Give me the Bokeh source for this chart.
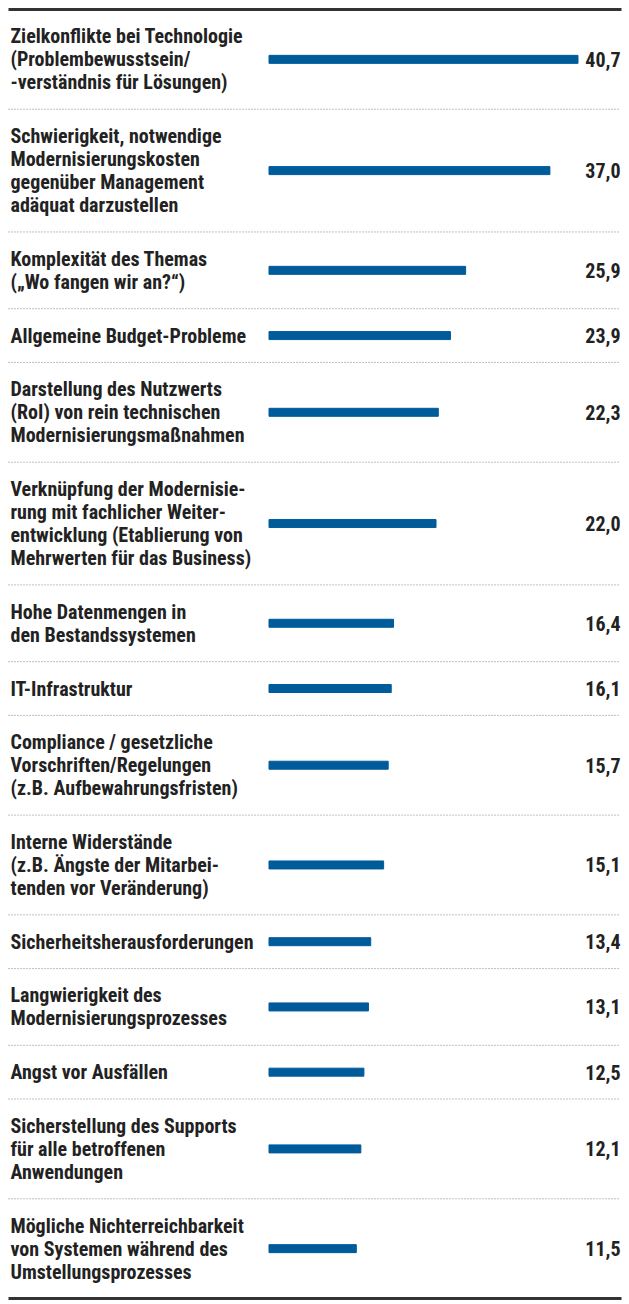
from bokeh.plotting import figure
from bokeh.models import Range1d, ColumnDataSource
from bokeh.embed import file_html
from bokeh.resources import INLINE
from bokeh.core.properties import value

labels = [
    "Zielkonflikte bei Technologie\n(Problembewusstsein/\n-verständnis für Lösungen)",
    "Schwierigkeit, notwendige\nModernisierungskosten\ngegenüber Management\nadäquat darzustellen",
    "Komplexität des Themas\n(„Wo fangen wir an?“)",
    "Allgemeine Budget-Probleme",
    "Darstellung des Nutzwerts\n(RoI) von rein technischen\nModernisierungsmaßnahmen",
    "Verknüpfung der Modernisie-\nrung mit fachlicher Weiter-\nentwicklung (Etablierung von\nMehrwerten für das Business)",
    "Hohe Datenmengen in\nden Bestandssystemen",
    "IT-Infrastruktur",
    "Compliance / gesetzliche\nVorschriften/Regelungen\n(z.B. Aufbewahrungsfristen)",
    "Interne Widerstände\n(z.B. Ängste der Mitarbei-\ntenden vor Veränderung)",
    "Sicherheitsherausforderungen",
    "Langwierigkeit des\nModernisierungsprozesses",
    "Angst vor Ausfällen",
    "Sicherstellung des Supports\nfür alle betroffenen\nAnwendungen",
    "Mögliche Nichterreichbarkeit\nvon Systemen während des\nUmstellungsprozesses",
]
values = [40.7, 37.0, 25.9, 23.9, 22.3, 22.0, 16.4, 16.1, 15.7, 15.1, 13.4, 13.1, 12.5, 12.1, 11.5]
value_labels = [f"{v:.1f}".replace(".", ",") for v in values]

W, H = 629, 1304
PX_PER_UNIT = 7.592
BAR_START_PX = 268.5
LEFT_PX, RIGHT_PX = 8, 621
LINE_H = 23
TOP, BOTTOM = 9, 1298

FONT = "Roboto Condensed, Roboto"
FS = 20
TEXT_COLOR = "#222222"
BAR_COLOR = "#005b9b"

x0 = -BAR_START_PX / PX_PER_UNIT
x1 = (W - BAR_START_PX) / PX_PER_UNIT
def px(xp):
    return x0 + xp / PX_PER_UNIT

n_lines = [lab.count("\n") + 1 for lab in labels]
row_pad = ((BOTTOM - TOP) - LINE_H * sum(n_lines)) / len(labels)

centers, bounds = [], [TOP]
y = TOP
for n in n_lines:
    h = row_pad + LINE_H * n
    centers.append(y + h / 2)
    y += h
    bounds.append(y)

p = figure(width=W, height=H, x_range=Range1d(x0, x1), y_range=Range1d(H, 0),
           output_backend="svg", toolbar_location=None, min_border=0)
p.axis.visible = False
p.grid.visible = False
p.outline_line_color = None
p.background_fill_color = "white"

src = ColumnDataSource(dict(y=centers, v=values, lab=labels, vl=value_labels))

p.hbar(y="y", left=0, right="v", height=8, color=BAR_COLOR, source=src)

p.text(x=px(10), y="y", text="lab", source=src,
       text_font=value(FONT), text_font_size=f"{FS}px", text_font_style="bold",
       text_color=TEXT_COLOR, text_baseline="middle", text_align="left",
       text_line_height=0.96)
p.text(x=px(620), y="y", text="vl", source=src,
       text_font=value(FONT), text_font_size=f"{FS}px", text_font_style="bold",
       text_color=TEXT_COLOR, text_baseline="middle", text_align="right")

inner = bounds[1:-1]
p.segment(x0=[px(LEFT_PX)] * len(inner), x1=[px(620)] * len(inner), y0=inner, y1=inner,
          line_color="#808080", line_width=1, line_dash="1 2")
p.segment(x0=[px(LEFT_PX)] * 2, x1=[px(RIGHT_PX)] * 2, y0=[bounds[0], bounds[-1]],
          y1=[bounds[0], bounds[-1]], line_color="#333333", line_width=3)

open("out.html", "w").write(file_html(p, INLINE))
